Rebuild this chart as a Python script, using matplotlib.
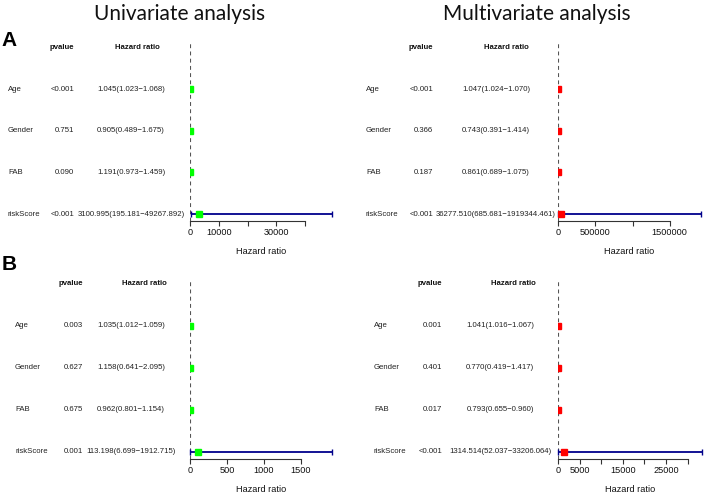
import matplotlib
matplotlib.use("Agg")
import matplotlib.pyplot as plt
from matplotlib.transforms import blended_transform_factory

# ---------------- data ----------------
variables = ["Age", "Gender", "FAB", "riskScore"]

# Panel A - univariate
uniA_p = ["<0.001", "0.751", "0.090", "<0.001"]
uniA_hr = [1.045, 0.905, 1.191, 3100.995]
uniA_lo = [1.023, 0.489, 0.973, 195.181]
uniA_hi = [1.068, 1.675, 1.459, 49267.892]

# Panel A - multivariate
mulA_p = ["<0.001", "0.366", "0.187", "<0.001"]
mulA_hr = [1.047, 0.743, 0.861, 36277.510]
mulA_lo = [1.024, 0.391, 0.689, 685.681]
mulA_hi = [1.070, 1.414, 1.075, 1919344.461]

# Panel B - univariate
uniB_p = ["0.003", "0.627", "0.675", "0.001"]
uniB_hr = [1.035, 1.158, 0.962, 113.198]
uniB_lo = [1.012, 0.641, 0.801, 6.699]
uniB_hi = [1.059, 2.095, 1.154, 1912.715]

# Panel B - multivariate
mulB_p = ["0.001", "0.401", "0.017", "<0.001"]
mulB_hr = [1.041, 0.770, 0.793, 1314.514]
mulB_lo = [1.016, 0.419, 0.655, 52.037]
mulB_hi = [1.067, 1.417, 0.960, 33206.064]

uniA_ticks = [0, 10000, 20000, 30000, 40000]
uniA_labels = ["0", "10000", "", "30000", ""]
mulA_ticks = [0, 500000, 1000000, 1500000]
mulA_labels = ["0", "500000", "", "1500000"]
uniB_ticks = [0, 500, 1000, 1500]
uniB_labels = ["0", "500", "1000", "1500"]
mulB_ticks = [0, 5000, 10000, 15000, 20000, 25000, 30000]
mulB_labels = ["0", "5000", "", "15000", "", "25000", ""]

titles = ["Univariate analysis", "Multivariate analysis"]
panel_letters = ["A", "B"]

# ---------------- figure ----------------
W, H = 708, 495
DPI = 100
fig = plt.figure(figsize=(W / DPI, H / DPI), dpi=DPI)
plt.rcParams["font.family"] = ["Liberation Sans", "DejaVu Sans"]

TXT = 5.6
TICK = 6.6
BOX_COLOR = {"uni": "#00FF00", "mul": "#FF0000"}
LINE_COLOR = "#00008B"

def px_axes(x0, y0, x1, y1):
    return fig.add_axes([x0 / W, 1 - y1 / H, (x1 - x0) / W, (y1 - y0) / H])

YLIM = (0.833, 5.11)

def forest(ax_box, kind, pvals, hr, lo, hi, ticks, tlabels, cols):
    x0, y0, x1, y1 = ax_box
    ax = px_axes(x0, y0, x1, y1)
    n = len(variables)
    ys = list(range(n, 0, -1))
    xmax = max(hi)
    ax.set_xlim(0, xmax)
    ax.set_ylim(*YLIM)
    for s in ["top", "right", "left"]:
        ax.spines[s].set_visible(False)
    ax.spines["bottom"].set_bounds(ticks[0], ticks[-1])
    ax.spines["bottom"].set_color("#333333")
    ax.spines["bottom"].set_linewidth(0.8)
    ax.set_yticks([])
    ax.set_xticks(ticks)
    ax.set_xticklabels(tlabels)
    ax.tick_params(axis="x", length=3.6, width=0.8, color="#333333",
                   labelsize=TICK, pad=1.5, labelcolor="#111111")
    ax.set_xlabel("Hazard ratio", fontsize=TICK, labelpad=7, color="#111111")
    ax.patch.set_alpha(0)
    ax.axvline(1, color="#555555", lw=0.8, linestyle=(0, (3.5, 3)), zorder=1)
    for y, h, l, u in zip(ys, hr, lo, hi):
        if (u - l) > 0.01 * xmax:
            ax.errorbar([h], [y], xerr=[[h - l], [u - h]], fmt="none",
                        ecolor=LINE_COLOR, elinewidth=1.3, capsize=2.2,
                        capthick=1.0, clip_on=False, zorder=2)
        ax.plot([h], [y], marker="s", markersize=5.0, color=BOX_COLOR[kind],
                linestyle="none", clip_on=True, zorder=3)
    # text columns
    tr = blended_transform_factory(fig.transFigure, ax.transData)
    name_x, p_x, hr_c, hdr_x = [c / W for c in cols]
    ax.text(p_x, 5, "pvalue", transform=tr, ha="right", va="center",
            fontsize=TXT, fontweight="bold", color="#111111")
    ax.text(hdr_x, 5, "Hazard ratio", transform=tr, ha="right", va="center",
            fontsize=TXT, fontweight="bold", color="#111111")
    for y, v, p, h, l, u in zip(ys, variables, pvals, hr, lo, hi):
        ax.text(name_x, y, v, transform=tr, ha="left", va="center",
                fontsize=TXT, color="#222222")
        ax.text(p_x, y, p, transform=tr, ha="right", va="center",
                fontsize=TXT, color="#222222")
        ax.text(hr_c, y, "%.3f(%.3f\u2212%.3f)" % (h, l, u), transform=tr,
                ha="center", va="center", fontsize=TXT, color="#222222")
    return ax

forest((190, 43, 332, 221), "uni", uniA_p, uniA_hr, uniA_lo, uniA_hi,
       uniA_ticks, uniA_labels, (8, 74, 131, 160))
forest((558, 43, 701, 221), "mul", mulA_p, mulA_hr, mulA_lo, mulA_hi,
       mulA_ticks, mulA_labels, (366, 433, 496, 529))
forest((190, 279, 331.5, 459), "uni", uniB_p, uniB_hr, uniB_lo, uniB_hi,
       uniB_ticks, uniB_labels, (15, 83, 131, 167))
forest((558, 279, 701.5, 459), "mul", mulB_p, mulB_hr, mulB_lo, mulB_hi,
       mulB_ticks, mulB_labels, (374, 442, 500, 536))

# titles
fig.text(180 / W, 1 - 14 / H, titles[0], ha="center", va="center",
         fontsize=15, family=["Lato", "DejaVu Sans"], color="#111111")
fig.text(537 / W, 1 - 14 / H, titles[1], ha="center", va="center",
         fontsize=15, family=["Lato", "DejaVu Sans"], color="#111111")
fig.text(9 / W, 1 - 40 / H, panel_letters[0], ha="center", va="center",
         fontsize=15, fontweight="bold", color="#000000")
fig.text(9 / W, 1 - 265 / H, panel_letters[1], ha="center", va="center",
         fontsize=15, fontweight="bold", color="#000000")

fig.savefig("out.png", dpi=DPI)
